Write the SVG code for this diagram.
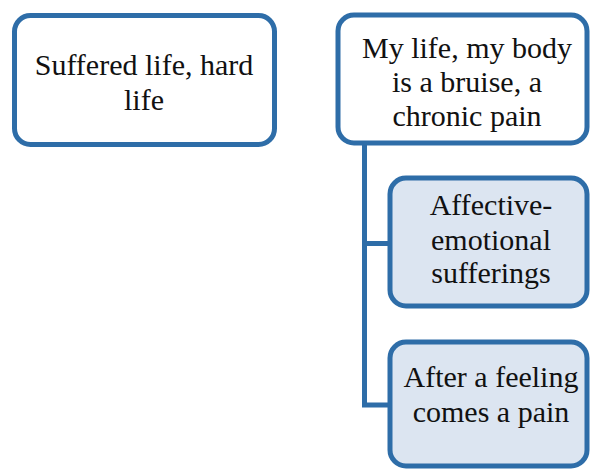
<svg xmlns="http://www.w3.org/2000/svg" width="590" height="469" viewBox="0 0 590 469">
<style>
.box{stroke:#2e6da8;stroke-width:5;}
.w{fill:#ffffff;}
.b{fill:#dce5f1;}
.c{stroke:#2e6da8;stroke-width:5;fill:none;}
</style>
<rect width="590" height="469" fill="#ffffff"/>
<g id="connectors">
<path class="c" d="M364.5 143 V407.5 M362 243.5 H392 M362 405 H392"/>
</g>
<g font-family="Liberation Serif, DejaVu Serif, serif" font-size="30" fill="#111" text-anchor="middle">
<g id="node1">
<rect class="box w" x="14.5" y="15.5" width="260" height="129" rx="16"/>
<text x="144" y="75">Suffered life, hard</text>
<text x="144" y="110">life</text>
</g>
<g id="node2">
<rect class="box w" x="338" y="15" width="249" height="128" rx="16"/>
<text x="467" y="58">My life, my body</text>
<text x="467" y="92">is a bruise, a</text>
<text x="467" y="126">chronic pain</text>
</g>
<g id="node3">
<rect class="box b" x="390" y="178" width="197" height="128" rx="16"/>
<text x="491" y="215">Affective-</text>
<text x="491" y="250">emotional</text>
<text x="491" y="283">sufferings</text>
</g>
<g id="node4">
<rect class="box b" x="390" y="342" width="197" height="124" rx="16"/>
<text x="491" y="387">After a feeling</text>
<text x="491" y="422">comes a pain</text>
</g>
</g>
</svg>
